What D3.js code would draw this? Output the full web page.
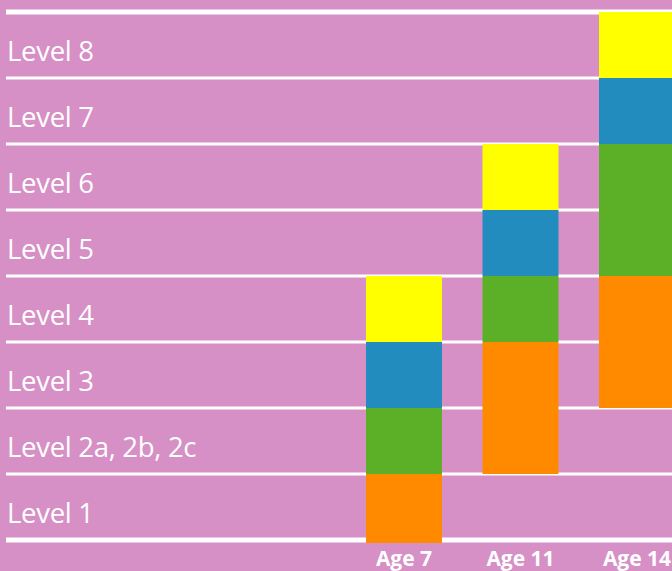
<!DOCTYPE html>
<html>
<head>
<meta charset="utf-8">
<script src="https://cdn.jsdelivr.net/npm/d3@7"></script>
<style>
  html, body { margin: 0; padding: 0; background: #d690c6; }
  svg { display: block; }
</style>
</head>
<body>
<div id="chart"></div>
<script>
  // level names, bottom to top
  const levels = ["Level 1", "Level 2a, 2b, 2c", "Level 3", "Level 4", "Level 5", "Level 6", "Level 7", "Level 8"];
  const ages = ["Age 7", "Age 11", "Age 14"];
  const segColors = ["#ff8a00", "#5bb027", "#238cbe", "#ffff00"];
  // [from level, to level] for each colour segment (orange, green, blue, yellow)
  const age7 = [[0, 1], [1, 2], [2, 3], [3, 4]];
  const age11 = [[1, 3], [3, 4], [4, 5], [5, 6]];
  const age14 = [[2, 4], [4, 6], [6, 7], [7, 8]];
  const ranges = [age7, age11, age14];

  // set width and height
  const width = 672;
  const height = 571;

  const y = d3.scaleLinear().domain([0, levels.length]).range([540, 12]);
  const x = d3.scaleBand().domain(ages).range([366, 675]).paddingInner(0.3476).paddingOuter(0);

  const svg = d3
    .select("#chart")
    .append("svg")
    .attr("width", width)
    .attr("height", height);

  svg.append("rect")
    .attr("width", width)
    .attr("height", height)
    .attr("fill", "#d690c6");

  // white horizontal lines
  svg
    .selectAll("hLine")
    .data(d3.range(levels.length + 1))
    .join("line")
    .attr("x1", 6)
    .attr("x2", width)
    .attr("y1", (d) => y(d))
    .attr("y2", (d) => y(d))
    .attr("stroke", "white")
    .attr("stroke-width", (d) => (d === 0 || d === levels.length ? 5 : 3));

  // level labels
  svg
    .selectAll("levelLabel")
    .data(levels)
    .join("text")
    .attr("x", 7)
    .attr("y", (d, i) => y(i + 0.5) + 16)
    .style("font-family", "'Open Sans', sans-serif")
    .style("font-size", "27.5px")
    .style("letter-spacing", "-0.3px")
    .style("fill", "white")
    .text((d) => d);

  // stacked blocks
  ages.forEach((age, a) => {
    svg
      .selectAll(".seg" + a)
      .data(ranges[a])
      .join("rect")
      .attr("x", x(age))
      .attr("width", x.bandwidth())
      .attr("y", (d) => y(d[1]))
      .attr("height", (d) => y(d[0]) - y(d[1]) + (d[0] === 0 ? 3 : 0))
      .attr("fill", (d, i) => segColors[i]);
  });

  // age labels
  svg
    .selectAll("ageLabel")
    .data(ages)
    .join("text")
    .attr("x", (d) => x(d) + x.bandwidth() / 2)
    .attr("y", 566)
    .style("text-anchor", "middle")
    .style("font-family", "'Open Sans', sans-serif")
    .style("font-weight", "bold")
    .style("font-size", "21px")
    .style("fill", "white")
    .text((d) => d);
</script>
</body>
</html>
